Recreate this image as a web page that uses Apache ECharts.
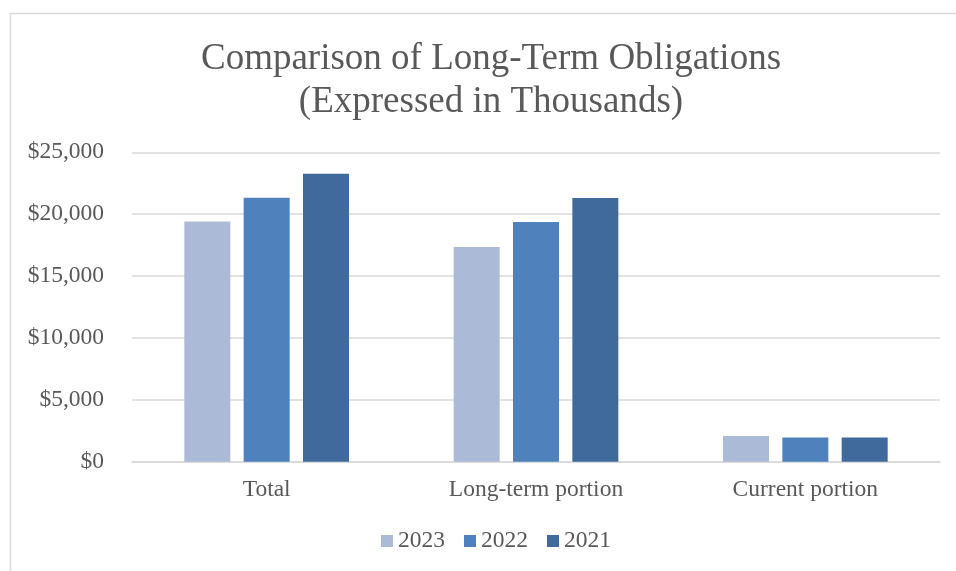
<!DOCTYPE html>
<html>
<head>
<meta charset="utf-8">
<style>
  html, body { margin: 0; padding: 0; background: #ffffff; }
  #chart { width: 956px; height: 571px; }
</style>
<script src="https://cdn.jsdelivr.net/npm/echarts@6/dist/echarts.min.js"></script>
</head>
<body>
<div id="chart"></div>
<script>
// Long-term obligations, in thousands of dollars
const categories = ['Total', 'Long-term portion', 'Current portion'];
const years = ['2023', '2022', '2021'];
const values2023 = [19400, 17350, 2070];
const values2022 = [21320, 19370, 1960];
const values2021 = [23260, 21300, 1960];
const yTicks = [0, 5000, 10000, 15000, 20000, 25000];

const seriesColors = ['#ABBAD7', '#4F81BD', '#406A9C'];
const textColor = '#595959';
const fontFamily = '"Liberation Serif", "Times New Roman", serif';

const chart = echarts.init(document.getElementById('chart'), null, { renderer: 'canvas' });

const yearValues = [values2023, values2022, values2021];

chart.setOption({
  backgroundColor: '#ffffff',
  animation: false,
  title: {
    text: 'Comparison of Long-Term Obligations\n(Expressed in Thousands)',
    left: 486,
    top: 33,
    textAlign: 'center',
    textStyle: {
      color: textColor,
      fontFamily: fontFamily,
      fontWeight: 'normal',
      fontSize: 37,
      lineHeight: 43
    }
  },
  legend: {
    data: years,
    left: 376,
    top: 524,
    align: 'left',
    icon: 'rect',
    itemWidth: 12,
    itemHeight: 12,
    itemGap: 19,
    textStyle: {
      color: textColor,
      fontFamily: fontFamily,
      fontSize: 23.5,
      padding: [0, 0, 0, 0]
    }
  },
  grid: {
    left: 132,
    right: 16,
    top: 152.3,
    bottom: 109.3,
    containLabel: false
  },
  xAxis: {
    type: 'category',
    data: categories,
    axisTick: { show: false },
    axisLine: { show: true, lineStyle: { color: '#D9D9D9', width: 1.5 } },
    axisLabel: {
      color: textColor,
      fontFamily: fontFamily,
      fontSize: 23.5,
      margin: 16
    }
  },
  yAxis: {
    type: 'value',
    min: yTicks[0],
    max: yTicks[yTicks.length - 1],
    interval: yTicks[1] - yTicks[0],
    axisLine: { show: false },
    axisTick: { show: false },
    splitLine: { lineStyle: { color: '#D9D9D9', width: 1.5 } },
    axisLabel: {
      color: textColor,
      fontFamily: fontFamily,
      fontSize: 23.5,
      margin: 28,
      formatter: function (v) {
        return '$' + v.toLocaleString('en-US');
      }
    }
  },
  series: years.map(function (year, i) {
    return {
      name: year,
      type: 'bar',
      data: yearValues[i],
      barWidth: 46,
      barGap: '29%',
      itemStyle: { color: seriesColors[i] }
    };
  }),
  graphic: [
    {
      type: 'line',
      shape: { x1: 10.5, y1: 13, x2: 10.5, y2: 571 },
      style: { stroke: '#D9D9D9', lineWidth: 1.5 },
      silent: true
    },
    {
      type: 'line',
      shape: { x1: 10, y1: 13.5, x2: 956, y2: 13.5 },
      style: { stroke: '#D9D9D9', lineWidth: 1.5 },
      silent: true
    }
  ]
});
</script>
</body>
</html>
